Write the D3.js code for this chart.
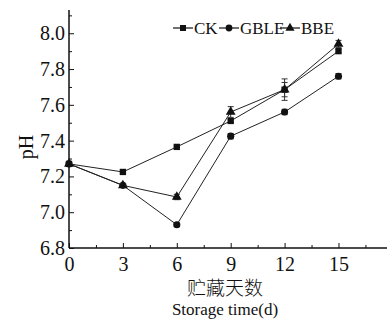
<!DOCTYPE html>
<html>
<head>
<meta charset="utf-8">
<script src="https://cdn.jsdelivr.net/npm/d3@7"></script>
<style>
body { margin: 0; background: #fff; }
svg text { font-family: "Liberation Serif", "DejaVu Serif", serif; fill: #111; }
</style>
</head>
<body>
<div id="chart"></div>
<script>
var days = [0, 3, 6, 9, 12, 15];
var ckVals = [7.27, 7.225, 7.365, 7.51, 7.685, 7.90];
var ckErr = [0.005, 0.005, 0.005, 0.01, 0.04, 0.01];
var gbleVals = [7.27, 7.15, 6.93, 7.425, 7.56, 7.76];
var gbleErr = [0.005, 0.01, 0.01, 0.015, 0.015, 0.015];
var bbeVals = [7.27, 7.15, 7.085, 7.56, 7.685, 7.94];
var bbeErr = [0.005, 0.01, 0.015, 0.03, 0.06, 0.02];
var xTicks = [0, 3, 6, 9, 12, 15];
var yTicks = [6.8, 7.0, 7.2, 7.4, 7.6, 7.8, 8.0];
var seriesNames = ["CK", "GBLE", "BBE"];

var serif = "'Liberation Serif', 'DejaVu Serif', serif";
var W = 387, H = 321;
var margin = {top: 10, right: 0, bottom: 73, left: 69};
var width = W - margin.left - margin.right,
    height = H - margin.top - margin.bottom;

var x = d3.scaleLinear().domain([0, 17.7]).range([0, width]);
var y = d3.scaleLinear().domain([6.8, 8.13]).range([height, 0]);

var svg = d3.select("#chart").append("svg")
    .attr("width", W).attr("height", H)
  .append("g")
    .attr("transform", "translate(" + margin.left + "," + margin.top + ")");

// axes
var xAxis = svg.append("g")
    .attr("transform", "translate(0," + height + ")")
    .call(d3.axisBottom(x).tickValues(d3.range(0, 17.7, 1.5)).tickSize(-4)
      .tickFormat(function (d) { return xTicks.indexOf(d) >= 0 ? d : ""; }));
xAxis.attr("font-family", serif);
xAxis.selectAll("line").attr("stroke", "#111")
    .attr("y2", function (d) { return xTicks.indexOf(d) >= 0 ? -5 : -3; });
xAxis.select(".domain").attr("stroke", "#111").attr("stroke-width", 1.5).attr("d", "M0,0H" + width);
xAxis.selectAll("text").attr("y", 5).attr("dy", "0.9em")
    .style("font-family", serif).style("font-size", "20px");

var yAxis = svg.append("g")
    .call(d3.axisLeft(y).tickValues(d3.range(6.8, 8.15, 0.1).map(function (v) { return +v.toFixed(1); }))
      .tickSize(-4)
      .tickFormat(function (d) { return yTicks.indexOf(d) >= 0 ? d.toFixed(1) : ""; }));
yAxis.attr("font-family", serif);
yAxis.selectAll("line").attr("stroke", "#111")
    .attr("x2", function (d) { return yTicks.indexOf(d) >= 0 ? 5 : 3; });
yAxis.select(".domain").attr("stroke", "#111").attr("stroke-width", 1.5).attr("d", "M0," + height + "V0");
yAxis.selectAll("text").attr("x", -4)
    .style("font-family", serif).style("font-size", "20px");

// series
var series = [
  {name: "CK", vals: ckVals, err: ckErr, sym: d3.symbolSquare, size: 40},
  {name: "GBLE", vals: gbleVals, err: gbleErr, sym: d3.symbolCircle, size: 40},
  {name: "BBE", vals: bbeVals, err: bbeErr, sym: d3.symbolTriangle, size: 42}
];

var line = d3.line()
    .x(function (d) { return x(d.day); })
    .y(function (d) { return y(d.v); });

series.forEach(function (s) {
  var pts = days.map(function (d, i) { return {day: d, v: s.vals[i], e: s.err[i]}; });
  svg.append("path").datum(pts)
      .attr("d", line).attr("fill", "none").attr("stroke", "#222").attr("stroke-width", 1);
  pts.forEach(function (p) {
    var cx = x(p.day);
    svg.append("path")
        .attr("d", "M" + cx + "," + y(p.v - p.e) + "V" + y(p.v + p.e) +
          "M" + (cx - 3) + "," + y(p.v - p.e) + "H" + (cx + 3) +
          "M" + (cx - 3) + "," + y(p.v + p.e) + "H" + (cx + 3))
        .attr("stroke", "#333").attr("stroke-width", 1).attr("fill", "none");
    svg.append("path")
        .attr("d", d3.symbol().type(s.sym).size(s.size))
        .attr("transform", "translate(" + cx + "," + y(p.v) + ")")
        .attr("fill", "#111");
  });
});

// legend
var legX = [104, 150, 211];
var legLen = [20, 20, 20];
series.forEach(function (s, i) {
  var lg = svg.append("g").attr("transform", "translate(" + legX[i] + ",18)");
  lg.append("line").attr("x1", 0).attr("x2", legLen[i]).attr("stroke", "#111").attr("stroke-width", 1.2);
  lg.append("path").attr("d", d3.symbol().type(s.sym).size(36))
      .attr("transform", "translate(" + legLen[i] / 2 + ",0)").attr("fill", "#111");
  lg.append("text").attr("x", legLen[i] + 1).attr("dy", "0.35em")
      .style("font-family", serif).style("font-size", "17px").text(seriesNames[i]);
});

// axis titles
svg.append("text")
    .attr("transform", "translate(" + (-36) + "," + (137) + ") rotate(-90)")
    .attr("text-anchor", "middle").style("font-size", "20px").text("pH");

svg.append("text")
    .attr("x", width / 2 - 3).attr("y", height + 47)
    .attr("text-anchor", "middle")
    .style("font-family", "'Noto Sans CJK SC', sans-serif").style("font-size", "19px")
    .style("font-weight", 300)
    .text("贮藏天数");

svg.append("text")
    .attr("x", width / 2 - 3).attr("y", height + 67)
    .attr("text-anchor", "middle").style("font-size", "17px")
    .text("Storage time(d)");
</script>
</body>
</html>
